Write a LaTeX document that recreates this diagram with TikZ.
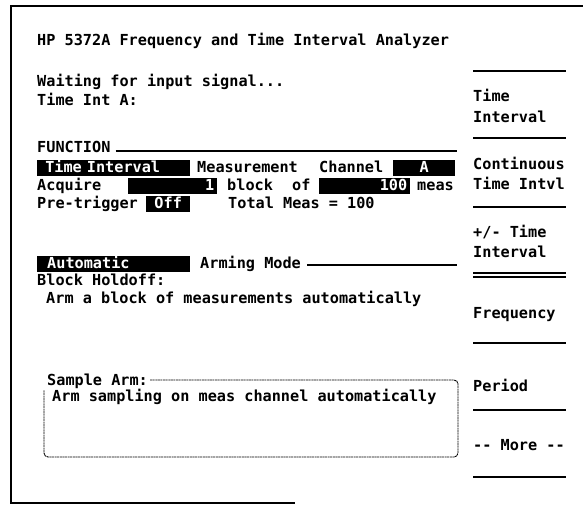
\documentclass[tikz,border=0pt]{standalone}
\usepackage{fontspec}
\newfontfamily\scrfont{DejaVu Sans Mono}[WordSpace={1,0,0}]
\newcommand{\scr}{\scrfont\bfseries\fontsize{15.2}{18}\selectfont}
\usepackage{tikz}
\usetikzlibrary{positioning}
\tikzstyle{scr}=[anchor=base west, inner sep=0pt, font=\scr, text=black]
\tikzstyle{inv}=[anchor=west, fill=black, text=white, font=\scr, inner xsep=3pt, inner ysep=0pt, text height=11pt, text depth=3pt, minimum height=16pt]
\tikzstyle{rule}=[line width=1.6pt]
\tikzstyle{keyline}=[line width=1.5pt]
\tikzstyle{frame}=[line width=1.6pt]
\tikzstyle{armframe}=[line width=0.9pt, dash pattern=on 2pt off 0.6pt, rounded corners=4pt]

\begin{document}
\begin{tikzpicture}[x=1pt, y=-1pt]
    \useasboundingbox (0,0) rectangle (583,508);

        \draw[frame] (583,6) -- (11,6) -- (11,503) -- (295,503);

        \node(title)[scr] at (37,46) {HP 5372A Frequency and Time Interval Analyzer};
        \node(waiting)[scr] at (37,87) {Waiting for input signal...};
        \node(timeInt)[scr] at (37,106) {Time Int A:};

        \node(func)[scr] at (37,152) {FUNCTION};
        \coordinate (funcEnd) at (457,151);
        \draw[rule] ([xshift=5pt, yshift=1pt]func.base east) -- (funcEnd);

        \node(funcBox)[inv, text width=147pt, align=left] at (37,168) {\ Time Interval};
        \node(measLabel)[scr] at (197,172) {Measurement};
        \node(channelLabel)[scr] at (319,172) {Channel};
        \node(channelBox)[inv, text width=56pt, align=center] at (393,168) {A};

        \node(acquire)[scr] at (37,190) {Acquire};
        \node(acquireBox)[inv, text width=83pt, align=right] at (128,186) {1};
        \node(blockLabel)[scr] at (227,190) {block};
        \node(ofLabel)[scr] at (292,190) {of};
        \node(countBox)[inv, text width=85pt, align=right] at (319,186) {100};
        \node(measUnit)[scr] at (417,190) {meas};

        \node(pretrig)[scr] at (37,208) {Pre-trigger};
        \node(pretrigBox)[inv, text width=38pt, align=center] at (146,204) {Off};
        \node(totalMeas)[scr] at (228,208) {Total Meas = 100};

        \node(armBox)[inv, text width=147pt, align=left] at (37,264) {\hspace*{7pt}Automatic};
        \node(armMode)[scr] at (200,268) {Arming Mode};
        \coordinate (armEnd) at (457,265);
        \draw[rule, line width=1.2pt] ([xshift=6pt, yshift=3pt]armMode.base east) -- (armEnd);
        \node(holdoff)[scr] at (37,285) {Block Holdoff:};
        \node(holdoffDesc)[scr] at (46,303) {Arm a block of measurements automatically};

        \node(sampleArm)[scr] at (47,385) {Sample Arm:};
        \coordinate (sampleCorner) at (458,457);
        \draw[armframe] ([xshift=2pt, yshift=5pt]sampleArm.base east) -| (sampleCorner) -| ([xshift=-3pt, yshift=-2pt]sampleArm.south west);
        \node(sampleDesc)[scr] at (52,401) {Arm sampling on meas channel automatically};

        \foreach \y in {71,138,207,273,277,343,410,477}{
            \draw[keyline] (473,\y) -- (566,\y);
        };

        \node(keyTime)[scr] at (473,102) {Time};
        \node(keyInterval)[scr] at (473,122) {Interval};
        \node(keyCont)[scr] at (473,169) {Continuous};
        \node(keyContB)[scr] at (473,189) {Time Intvl};
        \node(keyPm)[scr] at (473,237) {+/- Time};
        \node(keyPmB)[scr] at (473,257) {Interval};
        \node(keyFreq)[scr] at (473,318) {Frequency};
        \node(keyPeriod)[scr] at (473,391) {Period};
        \node(keyMore)[scr] at (473,450) {-- More --};

    \end{tikzpicture}
\end{document}
